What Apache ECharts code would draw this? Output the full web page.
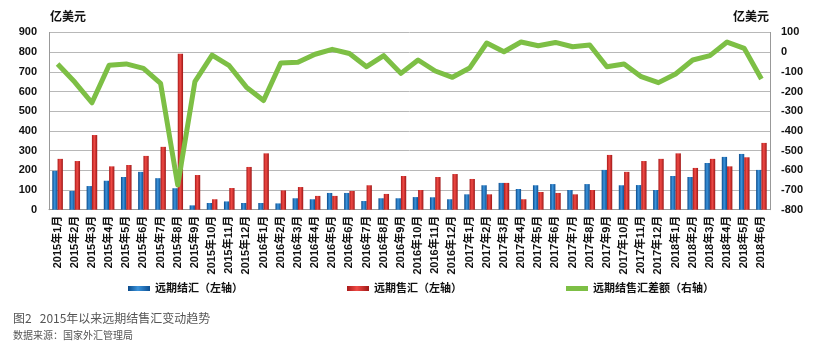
<!DOCTYPE html>
<html>
<head>
<meta charset="utf-8">
<script src="https://cdn.jsdelivr.net/npm/echarts@6/dist/echarts.min.js"></script>
<style>
html,body{margin:0;padding:0;background:#fff;}
#c{width:832px;height:349px;}
</style>
</head>
<body>
<div id="c"></div>
<script>
var categories = ["2015年1月","2015年2月","2015年3月","2015年4月","2015年5月","2015年6月","2015年7月","2015年8月","2015年9月","2015年10月","2015年11月","2015年12月",
"2016年1月","2016年2月","2016年3月","2016年4月","2016年5月","2016年6月","2016年7月","2016年8月","2016年9月","2016年10月","2016年11月","2016年12月",
"2017年1月","2017年2月","2017年3月","2017年4月","2017年5月","2017年6月","2017年7月","2017年8月","2017年9月","2017年10月","2017年11月","2017年12月",
"2018年1月","2018年2月","2018年3月","2018年4月","2018年5月","2018年6月"];

var settle = [197,95,120,147,166,192,160,109,22,34,42,34,
34,32,58,53,85,85,44,58,58,64,63,53,
78,124,136,105,124,130,100,130,202,124,125,100,
171,166,237,268,283,202];

var sale = [258,247,379,220,227,273,319,792,176,53,110,217,
286,98,115,70,70,95,124,80,171,100,166,181,
156,78,136,53,90,85,78,100,278,192,247,258,
286,212,258,220,266,339];

var net = [-60,-152,-257,-67,-60,-83,-159,-675,-150,-15,-69,-178,
-246,-55,-52,-11,14,-7,-74,-18,-108,-40,-96,-128,
-81,46,2,51,32,49,27,36,-74,-60,-125,-155,
-111,-40,-18,51,19,-137];

var leftTicks = {min:0, max:900, interval:100};
var rightTicks = {min:-800, max:100, interval:100};

var blueGrad = new echarts.graphic.LinearGradient(0,0,1,0,[
  {offset:0,color:'#0a4a8a'},{offset:0.45,color:'#3b93db'},{offset:1,color:'#0c4f92'}]);
var redGrad = new echarts.graphic.LinearGradient(0,0,1,0,[
  {offset:0,color:'#a91a1a'},{offset:0.45,color:'#f04a45'},{offset:1,color:'#9e1717'}]);

var FONT = '"Liberation Sans","Noto Sans CJK SC",sans-serif';
var chart = echarts.init(document.getElementById('c'), null, {renderer:'canvas'});
var legendText = {fontSize:11, fontWeight:'bold', color:'#111', fontFamily:FONT};
chart.setOption({
  animation:false,
  textStyle:{fontFamily:FONT},
  grid:{left:49, right:62, top:32.4, bottom:139.3, containLabel:false},
  legend:[
    {data:['远期结汇（左轴）'], left:128, top:283, padding:0, itemWidth:22, itemHeight:5, itemGap:0, textStyle:legendText, icon:'rect'},
    {data:['远期售汇（左轴）'], left:347, top:283, padding:0, itemWidth:22, itemHeight:5, itemGap:0, textStyle:legendText, icon:'rect'},
    {data:['远期结售汇差额（右轴）'], left:566, top:283, padding:0, itemWidth:22, itemHeight:5, itemGap:0, textStyle:legendText, icon:'rect'}
  ],
  xAxis:{
    type:'category', data:categories, boundaryGap:true,
    axisLine:{lineStyle:{color:'#999'}},
    axisTick:{show:false},
    axisLabel:{interval:0, rotate:90, fontSize:11, fontWeight:'bold', color:'#111', margin:6, fontFamily:FONT}
  },
  yAxis:[
    {type:'value', min:leftTicks.min, max:leftTicks.max, interval:leftTicks.interval,
     axisLine:{show:true, lineStyle:{color:'#999'}}, axisTick:{show:false},
     splitLine:{lineStyle:{color:'#b8b8b8'}},
     axisLabel:{fontSize:11, fontWeight:'bold', color:'#111', margin:12, fontFamily:FONT}},
    {type:'value', min:rightTicks.min, max:rightTicks.max, interval:rightTicks.interval, position:'right',
     axisLine:{show:true, lineStyle:{color:'#999'}}, axisTick:{show:false},
     splitLine:{show:false},
     axisLabel:{fontSize:11, fontWeight:'bold', color:'#111', margin:11, fontFamily:FONT}}
  ],
  series:[
    {name:'远期结汇（左轴）', type:'bar', data:settle, yAxisIndex:0, barWidth:5.3, barGap:'0%',
     itemStyle:{color:blueGrad}},
    {name:'远期售汇（左轴）', type:'bar', data:sale, yAxisIndex:0, barWidth:5.3, barGap:'0%',
     itemStyle:{color:redGrad}},
    {name:'远期结售汇差额（右轴）', type:'line', data:net, yAxisIndex:1, showSymbol:false, symbol:'none',
     lineStyle:{color:'#7dbf45', width:5, join:'round'}, itemStyle:{color:'#7dbf45'}, z:5}
  ],
  graphic:[
    {type:'text', left:50, top:10, style:{text:'亿美元', fill:'#111', font:'bold 12px "Noto Sans CJK SC"'}},
    {type:'text', left:733, top:10, style:{text:'亿美元', fill:'#111', font:'bold 12px "Noto Sans CJK SC"'}},
    {type:'text', left:13, top:312, style:{text:'图2   2015年以来远期结售汇变动趋势', font:'12px "Noto Sans CJK SC"', fill:'#555'}},
    {type:'text', left:13, top:330, style:{text:'数据来源：国家外汇管理局', font:'10px "Noto Sans CJK SC"', fill:'#555'}}
  ]
});
</script>
</body>
</html>
